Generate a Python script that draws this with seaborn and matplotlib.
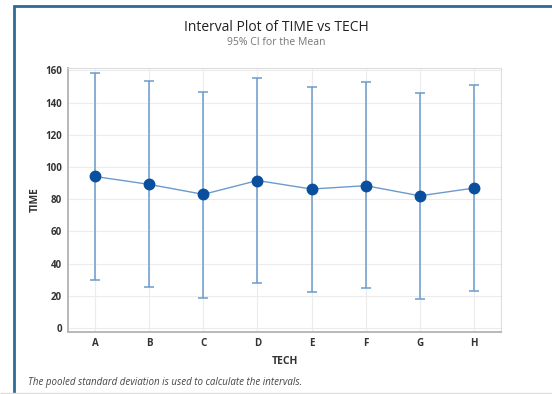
import pandas as pd
import matplotlib
matplotlib.use("Agg")
import matplotlib.pyplot as plt
import seaborn as sns
from matplotlib.patches import Rectangle

# Data
techs = ["A", "B", "C", "D", "E", "F", "G", "H"]
means = [94.1, 89.2, 83.0, 91.6, 86.3, 88.4, 82.1, 86.9]
upper = [158.1, 153.3, 146.9, 155.6, 150.0, 152.7, 146.1, 150.9]
lower = [30.1, 25.4, 18.6, 27.7, 22.1, 24.6, 18.0, 23.1]
yticks = [0, 20, 40, 60, 80, 100, 120, 140, 160]

df = pd.DataFrame({"TECH": techs, "TIME": means, "upper": upper, "lower": lower})

sns.set_style("white")
plt.rcParams["font.family"] = ["Open Sans", "DejaVu Sans"]

fig = plt.figure(figsize=(5.52, 3.94), dpi=100)
ax = fig.add_axes([0.1232, 0.1574, 0.7844, 0.67])

line_col = "#6b9bcc"
mark_col = "#0a4f9e"

# intervals
ax.errorbar(df["TECH"], df["TIME"],
            yerr=[df["TIME"] - df["lower"], df["upper"] - df["TIME"]],
            fmt="none", ecolor=line_col, elinewidth=1.1, capsize=3.5, capthick=1.1, zorder=2)

sns.pointplot(data=df, x="TECH", y="TIME", errorbar=None, color=line_col,
              markers="o", linestyles="-", ax=ax, zorder=3)
for ln in ax.lines:
    if ln.get_marker() == "o":
        ln.set_markerfacecolor(mark_col)
        ln.set_markeredgecolor(mark_col)
        ln.set_markersize(6.5)
        ln.set_linewidth(1.0)

ax.set_xlim(-0.5, 7.5)
ax.set_ylim(-2.5, 161.5)
ax.set_yticks(yticks)
ax.grid(True, color="#ececec", linewidth=0.8)
ax.set_axisbelow(True)

for side in ["top", "right"]:
    ax.spines[side].set_color("#dddddd")
    ax.spines[side].set_linewidth(0.8)
for side in ["left", "bottom"]:
    ax.spines[side].set_color("#b8b8b8")
    ax.spines[side].set_linewidth(1.4)

ax.tick_params(axis="both", labelsize=7, colors="#333333", length=2, width=0.8, pad=2.5)
for t in ax.get_xticklabels() + ax.get_yticklabels():
    t.set_fontweight("bold")
ax.tick_params(axis="both", color="#b8b8b8")
ax.set_xlabel("TECH", fontsize=7.5, color="#333333", labelpad=5, fontweight="bold")
ax.set_ylabel("TIME", fontsize=7.5, color="#333333", labelpad=3, fontweight="bold")

fig.text(0.5, 0.931, "Interval Plot of TIME vs TECH", ha="center", va="center",
         fontsize=10, color="#222222")
fig.text(0.5, 0.891, "95% CI for the Mean", ha="center", va="center",
         fontsize=7.5, color="#777777")
fig.text(0.05, 0.03, "The pooled standard deviation is used to calculate the intervals.",
         ha="left", va="center", fontsize=7, style="italic", color="#444444")

# window frame
fig.patches.append(Rectangle((13.5 / 552, -0.05), 1.2, 1.05 - 6.5 / 394,
                             transform=fig.transFigure, fill=False,
                             edgecolor="#2d6a96", linewidth=2.0))
fig.patches.append(Rectangle((0, 1.5 / 394), 1, 0, transform=fig.transFigure,
                             fill=False, edgecolor="#dddddd", linewidth=1.0))

fig.savefig("out.png", dpi=100)
